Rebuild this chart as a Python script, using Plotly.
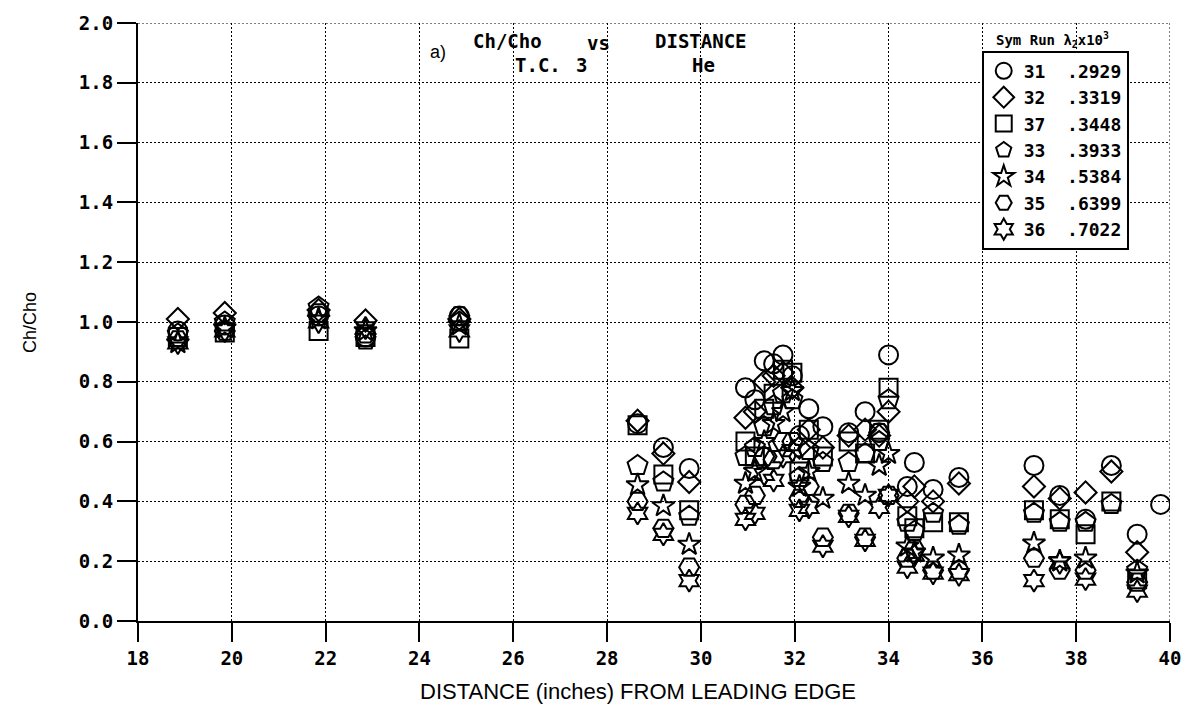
import plotly.graph_objects as go

# ---------------- data ----------------
distance = [18.85, 19.85, 21.85, 22.85, 24.85, 28.65, 29.2, 29.75,
            30.95, 31.15, 31.35, 31.55, 31.75, 31.95, 32.1, 32.3, 32.6,
            33.15, 33.5, 33.8, 34.0, 34.4, 34.55, 34.95, 35.5,
            37.1, 37.65, 38.2, 38.75, 39.3, 39.8]

run31 = [0.97, 0.99, 1.02, 0.95, 1.02, 0.66, 0.58, 0.51,
         0.78, 0.74, 0.87, 0.86, 0.89, 0.82, 0.62, 0.71, 0.65,
         0.63, 0.70, 0.63, 0.89, 0.45, 0.53, 0.44, 0.48,
         0.52, 0.42, 0.34, 0.52, 0.29, 0.39]
run32 = [1.01, 1.03, 1.04, 1.005, 1.01, 0.67, 0.56, 0.465,
         0.68, 0.70, 0.80, 0.82, 0.83, 0.78, 0.58, 0.64, 0.58,
         0.62, 0.64, 0.62, 0.70, 0.40, 0.45, 0.40, 0.46,
         0.45, 0.41, 0.43, 0.50, 0.23, None]
run37 = [0.95, 0.965, 0.97, 0.95, 0.945, 0.655, 0.49, 0.37,
         0.60, 0.55, 0.71, 0.76, 0.84, 0.83, 0.50, 0.64, 0.55,
         0.60, 0.56, 0.64, 0.78, 0.35, 0.31, 0.33, 0.33,
         0.37, 0.34, 0.29, 0.40, 0.14, None]
run33 = [0.96, 1.00, 1.05, 0.94, 1.00, 0.52, 0.465, 0.35,
         0.55, 0.58, 0.65, 0.72, 0.76, 0.74, 0.48, 0.57, 0.53,
         0.53, 0.56, 0.60, 0.74, 0.33, 0.30, 0.36, 0.32,
         0.36, 0.33, 0.33, 0.39, 0.17, None]
run34 = [0.93, 0.98, 1.01, 0.97, 0.99, 0.455, 0.385, 0.256,
         0.46, 0.50, 0.60, 0.66, 0.70, 0.77, 0.45, 0.50, 0.41,
         0.46, 0.42, 0.52, 0.56, 0.25, 0.23, 0.21, 0.22,
         0.26, 0.20, 0.21, None, 0.16, None]
run35 = [0.94, 0.97, 1.03, 0.96, 1.02, 0.40, 0.31, 0.18,
         0.39, 0.42, 0.55, 0.54, 0.60, 0.60, 0.41, 0.45, 0.28,
         0.36, 0.28, 0.63, 0.42, 0.21, 0.24, 0.17, 0.17,
         0.21, 0.17, 0.17, None, 0.13, None]
run36 = [0.93, 0.97, 1.00, 0.98, 0.97, 0.36, 0.29, 0.135,
         0.34, 0.36, 0.49, 0.47, 0.55, 0.57, 0.37, 0.38, 0.25,
         0.35, 0.27, 0.38, 0.42, 0.18, 0.22, 0.16, 0.155,
         0.135, 0.195, 0.14, None, 0.10, None]

run_ids = ["31", "32", "37", "33", "34", "35", "36"]
lambdas = [".2929", ".3319", ".3448", ".3933", ".5384", ".6399", ".7022"]
series = [run31, run32, run37, run33, run34, run35, run36]
symbols = ["circle-open", "diamond-open", "square-open", "pentagon-open",
           "star-open", "hexagon2-open", "hexagram-open"]
sizes = [19, 17, 18, 21, 17, 20, 17]

x_ticks = list(range(18, 41, 2))
y_ticks = [round(0.2 * i, 1) for i in range(11)]

# ---------------- figure ----------------
W, H = 1193, 717
L, R, T, B = 138, 19, 14, 96
pw, ph = W - L - R, H - T - B

def px(xp):
    return (xp - L) / pw

def py(yp):
    return (H - B - yp) / ph

MONO = "DejaVu Sans Mono"
SANS = "Liberation Sans"

fig = go.Figure()
for rid, lam, ys, sym, sz in zip(run_ids, lambdas, series, symbols, sizes):
    fig.add_trace(go.Scatter(
        x=distance, y=ys, mode="markers",
        name=f"{rid}\u00a0\u00a0{lam}",
        marker=dict(symbol=sym, size=sz, color="black",
                    line=dict(color="black", width=2)),
    ))

fig.update_layout(
    width=W, height=H,
    margin=dict(l=L, r=R, t=T, b=B),
    paper_bgcolor="white", plot_bgcolor="white",
    showlegend=True,
    legend=dict(
        x=px(985), y=py(42), xanchor="left", yanchor="top",
        bgcolor="white", bordercolor="black", borderwidth=2,
        font=dict(family=MONO, size=18, color="black", weight="bold"),
        itemsizing="trace", tracegroupgap=0,
    ),
    xaxis=dict(
        range=[18, 40], tickvals=x_ticks, ticktext=[str(v) for v in x_ticks],
        showgrid=True, gridcolor="black", gridwidth=1, griddash="2px,2px",
        showline=True, linecolor="black", linewidth=2,
        ticks="outside", ticklen=19, tickwidth=2, tickcolor="black",
        tickfont=dict(family=MONO, size=19, color="black", weight="bold"),
        zeroline=False,
    ),
    yaxis=dict(
        range=[0, 2], tickvals=y_ticks, ticktext=[f"{v:.1f}" for v in y_ticks],
        showgrid=True, gridcolor="black", gridwidth=1, griddash="2px,2px",
        showline=True, linecolor="black", linewidth=2,
        ticks="outside", ticklen=19, tickwidth=2, tickcolor="black",
        tickfont=dict(family=MONO, size=19, color="black", weight="bold"),
        zeroline=False,
    ),
)

# edge grid lines (top 2.0 and right 40)
fig.add_shape(type="line", xref="x", yref="y", x0=18, x1=40, y0=2, y1=2,
              line=dict(color="black", width=1, dash="2px,2px"))
fig.add_shape(type="line", xref="x", yref="y", x0=40, x1=40, y0=0, y1=2,
              line=dict(color="black", width=1, dash="2px,2px"))

def ann(text, xp, yp, size, family=MONO, bold=True, angle=0):
    fig.add_annotation(
        text=text, x=px(xp), y=py(yp), xref="paper", yref="paper",
        xanchor="center", yanchor="middle", showarrow=False, textangle=angle,
        font=dict(family=family, size=size, color="black",
                  weight="bold" if bold else "normal"),
    )

# title block
ann("a)", 439, 43, 18, family=SANS, bold=False)
ann("Ch/Cho", 509, 32, 19)
ann("vs", 600, 34, 19)
ann("DISTANCE", 703, 32, 19)
ann("T.C.", 540, 57, 19)
ann("3", 583, 57, 19)
ann("He", 706, 57, 19)

# legend header
ann("Sym Run \u03bb<sub>2</sub>x10<sup>3</sup>", 1056, 31, 14)

# axis titles
ann("Ch/Cho", 30, 318, 18, family=SANS, bold=False, angle=-90)
ann("DISTANCE (inches) FROM LEADING EDGE", 640, 693, 22, family=SANS, bold=False)

fig.write_html("out.html")
